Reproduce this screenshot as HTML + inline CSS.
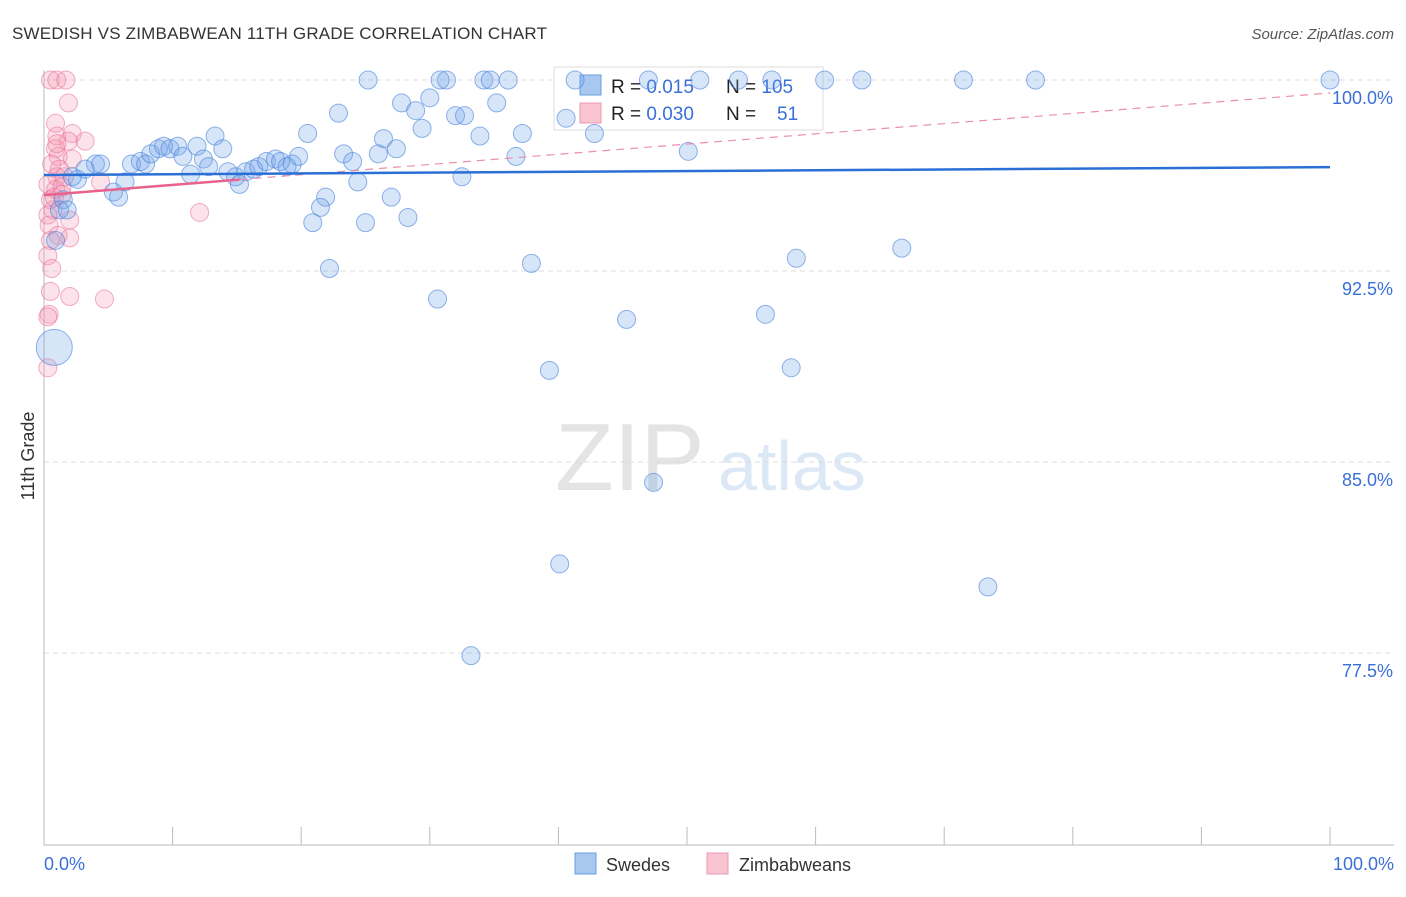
<!DOCTYPE html>
<html><head><meta charset="utf-8"><style>
body{margin:0;background:#fff;font-family:"Liberation Sans",sans-serif;}
svg text{font-family:"Liberation Sans",sans-serif;}
</style></head><body>
<svg id="chart" width="1406" height="892">
<text x="12" y="39" font-size="17" fill="#333" letter-spacing="0.2">SWEDISH VS ZIMBABWEAN 11TH GRADE CORRELATION CHART</text>
<text x="1394" y="39" font-size="15" fill="#555" font-style="italic" text-anchor="end">Source: ZipAtlas.com</text>
<text x="555" y="490" font-size="96" fill="#e4e4e4" font-family="Liberation Serif,serif">ZIP</text>
<text x="718" y="490" font-size="70" fill="#dce8f6">atlas</text>
<g id="grid"></g><g id="axes"></g>
<g>
<rect x="554" y="67" width="269" height="63" fill="#fff" stroke="#ddd"/>
<rect x="580" y="75" width="21" height="20" fill="#a8c8f0" stroke="#6a9ee0"/>
<rect x="580" y="103" width="21" height="20" fill="#f9c4d2" stroke="#ec9ab2"/>
<text x="611" y="93" font-size="19" fill="#222">R = <tspan fill="#3a6fd8">0.015</tspan></text>
<text x="726" y="93" font-size="19" fill="#222">N = <tspan fill="#3a6fd8">105</tspan></text>
<text x="611" y="120" font-size="19" fill="#222">R = <tspan fill="#3a6fd8">0.030</tspan></text>
<text x="726" y="120" font-size="19" fill="#222">N = <tspan fill="#3a6fd8" x="777">51</tspan></text>
</g>
<g id="pts"></g><g id="trends"></g>
<text transform="translate(34,456) rotate(-90)" font-size="18" fill="#333" text-anchor="middle">11th Grade</text>
<text x="44" y="870" font-size="18" fill="#3a6fd8">0.0%</text>
<text x="1394" y="870" font-size="18" fill="#3a6fd8" text-anchor="end">100.0%</text>
<g>
<rect x="575" y="853" width="21" height="21" fill="#a8c8f0" stroke="#6a9ee0"/>
<text x="606" y="871" font-size="18" fill="#333">Swedes</text>
<rect x="707" y="853" width="21" height="21" fill="#f9c4d2" stroke="#ec9ab2"/>
<text x="739" y="871" font-size="18" fill="#333">Zimbabweans</text>
</g>
</svg>
<script>
const yTicks=[100,92.5,85,77.5];
const yTickLabels=["100.0%","92.5%","85.0%","77.5%"];
const xTicks=[0,10,20,30,40,50,60,70,80,90,100];
const swedesX=[25.2,30.8,31.3,34.2,34.7,36.1,41.3,47.0,51.0,54.0,56.6,60.7,63.6,71.5,77.1,100,22.9,27.8,28.9,30.0,32.0,32.7,35.2,40.6,29.4,20.5,33.9,37.2,26.4,42.8,27.4,23.3,26.0,24.0,36.7,50.1,32.5,24.4,21.9,21.5,20.9,25.0,27.0,28.3,22.2,37.9,58.5,66.7,30.6,45.3,56.1,39.3,58.1,47.4,40.1,73.4,33.2,1.5,0.9,0.8,4.0,4.4,2.6,5.4,5.8,6.3,6.8,7.5,7.9,8.3,8.9,9.3,9.8,10.4,10.8,11.4,11.9,12.4,12.8,13.3,13.9,14.3,14.9,15.2,15.7,16.3,16.7,17.3,18.0,18.4,18.9,19.3,19.8,2.2,3.2,1.2,1.8];
const swedesY=[100,100,100,100,100,100,100,100,100,100,100,100,100,100,100,100,98.7,99.1,98.8,99.3,98.6,98.6,99.1,98.5,98.1,97.9,97.8,97.9,97.7,97.9,97.3,97.1,97.1,96.8,97.0,97.2,96.2,96.0,95.4,95.0,94.4,94.4,95.4,94.6,92.6,92.8,93.0,93.4,91.4,90.6,90.8,88.6,88.7,84.2,81.0,80.1,77.4,95.3,93.7,89.5,96.7,96.7,96.1,95.6,95.4,96.0,96.7,96.8,96.7,97.1,97.3,97.4,97.3,97.4,97.0,96.3,97.4,96.9,96.6,97.8,97.3,96.4,96.2,95.9,96.4,96.5,96.6,96.8,96.9,96.8,96.6,96.7,97.0,96.2,96.5,94.9,94.9];
const zimX=[0.5,1.0,1.7,1.9,0.9,1.0,2.2,1.9,3.2,0.9,1.1,2.2,0.6,1.2,1.0,1.6,0.3,0.9,1.4,4.4,0.5,0.7,0.3,2.0,0.4,1.1,2.0,0.5,0.3,0.6,0.5,2.0,4.7,0.4,0.3,0.3,12.1,1.0,1.4,0.8];
const zimY=[100,100,100,99.1,98.3,97.8,97.9,97.6,97.6,97.3,97.0,96.9,96.7,96.5,96.2,96.2,95.9,95.7,95.8,96.0,95.3,94.9,94.7,94.5,94.3,93.9,93.8,93.7,93.1,92.6,91.7,91.5,91.4,90.8,90.7,88.7,94.8,97.5,95.5,95.4];
const swedesTrend=[96.27,96.58];
const zimTrend=[95.48,99.49];
const zimSolidEnd=15.2;
const NS="http://www.w3.org/2000/svg";
const xs=v=>44+v*12.86, ys=v=>80+(100-v)*25.47;
function mk(tag,parent,attrs){const e=document.createElementNS(NS,tag);for(const k in attrs)e.setAttribute(k,attrs[k]);document.getElementById(parent).appendChild(e);return e;}
yTicks.forEach((t,i)=>{
 const l=mk('line','grid',{x1:44,x2:1394,y1:ys(t),y2:ys(t),stroke:'#ddd','stroke-dasharray':'5,4'});
 
 
 const tx=mk('text','grid',{x:1393,y:ys(t)+24,'font-size':18,fill:'#3a6fd8','text-anchor':'end'});
 tx.textContent=yTickLabels[i];
 
 
});
const ax=mk('line','axes',{x1:44,x2:1394,y1:845,y2:845,stroke:'#bbb'});


const ay=mk('line','axes',{x1:44,x2:44,y1:70,y2:845,stroke:'#bbb'});


xTicks.forEach(t=>{
 const l=mk('line','axes',{x1:xs(t),x2:xs(t),y1:827,y2:845,stroke:'#bbb'});
 
 
});
zimX.forEach((x,i)=>{
 const c=mk('circle','pts',{cx:xs(x),cy:ys(zimY[i]),r:9,fill:'rgba(243,150,180,0.28)',stroke:'rgba(232,110,150,0.55)'});
 
 
});
swedesX.forEach((x,i)=>{
 const c=mk('circle','pts',{cx:xs(x),cy:ys(swedesY[i]),r:(i==59?18:9),fill:'rgba(110,160,230,0.28)',stroke:'rgba(70,130,220,0.6)'});
 
 
});
const zl=(x)=>zimTrend[0]+(zimTrend[1]-zimTrend[0])*x/100;
const t1=mk('line','trends',{x1:xs(zimSolidEnd),y1:ys(zl(zimSolidEnd)),x2:xs(100),y2:ys(zimTrend[1]),stroke:'#eb8fab','stroke-width':1.2,'stroke-dasharray':'8,6'});


const t2=mk('line','trends',{x1:xs(0),y1:ys(zimTrend[0]),x2:xs(zimSolidEnd),y2:ys(zl(zimSolidEnd)),stroke:'#e8628d','stroke-width':2.5});


const t3=mk('line','trends',{x1:xs(0),y1:ys(swedesTrend[0]),x2:xs(100),y2:ys(swedesTrend[1]),stroke:'#2a6fd6','stroke-width':2.5});


</script>
</body></html>
